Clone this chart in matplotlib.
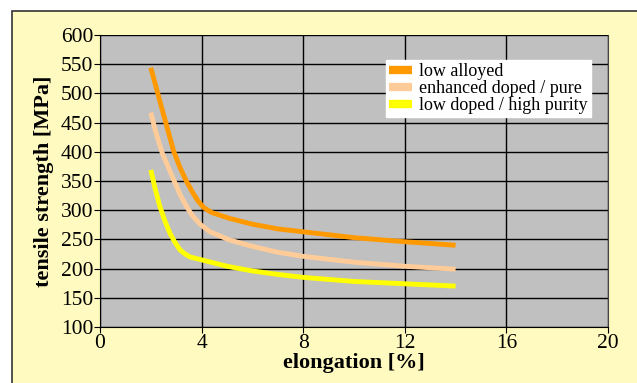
import matplotlib.pyplot as plt
from matplotlib.patches import Rectangle

x_alloyed = [2, 2.45, 2.9, 3.15, 3.41, 3.65, 3.87, 4.1, 4.4, 5.1, 6, 7, 8, 10, 12, 14]
y_alloyed = [544, 472, 401, 373, 349, 330, 315, 304, 296, 286, 276, 268, 263, 253, 246, 240]
x_enhanced = [2, 2.2, 2.45, 2.9, 3.15, 3.41, 3.65, 3.94, 4.33, 5.1, 6, 7, 8, 10, 12, 14]
y_enhanced = [467, 433, 398, 352, 327, 306, 290, 276, 263, 249, 238, 228, 221, 211, 204, 199]
x_lowdoped = [2, 2.17, 2.36, 2.56, 2.76, 2.95, 3.15, 3.35, 3.54, 4, 5, 6, 7, 8, 10, 12, 14]
y_lowdoped = [369, 337, 306, 281, 260, 245, 232, 225, 220, 215, 204, 196, 190, 185, 178, 174, 170]

labels = ['low alloyed', 'enhanced doped / pure', 'low doped / high purity']
colors = ['#ff9900', '#ffcc99', '#ffff00']
xticks = [0, 4, 8, 12, 16, 20]
yticks = [100, 150, 200, 250, 300, 350, 400, 450, 500, 550, 600]

plt.rcParams['font.family'] = ['Liberation Serif', 'DejaVu Serif']

fig = plt.figure(figsize=(6.37, 3.83), dpi=100)
fig.patch.set_facecolor('white')
fig.patches.append(Rectangle((12/637, -0.05), 1.0, 1 - 11/383 + 0.05,
                             transform=fig.transFigure, facecolor='#fffac0',
                             edgecolor='#333333', linewidth=1.2, zorder=-5))

ax = fig.add_axes([100/637, 1 - 327/383, 508/637, 292/383])
ax.set_facecolor('#c0c0c0')

series = [(x_alloyed, y_alloyed), (x_enhanced, y_enhanced), (x_lowdoped, y_lowdoped)]
for (xs, ys), lab, c in zip(series, labels, colors):
    ax.plot(xs, ys, color=c, linewidth=3.5, label=lab, solid_capstyle='butt',
            solid_joinstyle='round', zorder=3)

ax.set_xlim(0, 20)
ax.set_ylim(100, 600)
ax.set_xticks(xticks)
ax.set_yticks(yticks)
ax.grid(True, color='black', linewidth=1.0)
ax.set_axisbelow(True)
ax.tick_params(labelsize=15.5, length=4, direction='out', pad=1)
for s in ax.spines.values():
    s.set_color('black')
ax.spines['top'].set_visible(False)
ax.spines['right'].set_color('#444444')

ax.set_xlabel('elongation [%]', fontsize=16, fontweight='bold', labelpad=0)
ax.set_ylabel('tensile strength [MPa]', fontsize=16, fontweight='bold', labelpad=5)

leg = ax.legend(loc='upper left', bbox_to_anchor=(0.563, 0.914), frameon=True,
                fancybox=False, framealpha=1, edgecolor='white', fontsize=13,
                handlelength=1.3, handleheight=0.5, labelspacing=0.0,
                borderpad=0.15, handletextpad=0.4, borderaxespad=0)
for h in leg.get_lines():
    h.set_linewidth(6)

fig.savefig('out.png', dpi=100)
